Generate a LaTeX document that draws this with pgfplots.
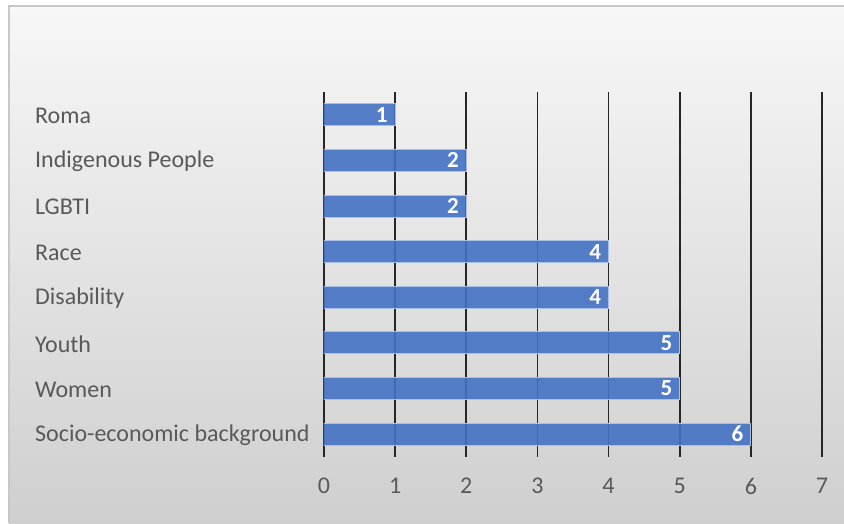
\documentclass[border=0pt]{standalone}
\usepackage{fontspec}
\setmainfont{Carlito}
\usepackage{pgfplots}
\pgfplotsset{compat=1.18}
\definecolor{barblue}{HTML}{4472C4}
\definecolor{baredge}{HTML}{A9BFE6}
\definecolor{txtgray}{HTML}{595959}
\definecolor{bgtop}{HTML}{F7F7F7}
\definecolor{bgbot}{HTML}{CFCFCF}
\definecolor{frame}{HTML}{C8C8C8}

\begin{document}
\begin{tikzpicture}
\useasboundingbox (0pt,0pt) rectangle (844pt,523pt);
% panel background and frame
\shade[top color=bgtop, bottom color=bgbot] (9pt,0pt) rectangle (844pt,517pt);
\draw[frame, line width=1.2pt] (9pt,0pt) -- (9pt,517pt) -- (844pt,517pt);
\begin{axis}[
  at={(324pt,66pt)}, anchor=south west,
  scale only axis, width=498pt, height=365pt,
  xbar, bar width=22pt,
  xmin=0, xmax=7, ymin=-0.5, ymax=7.5,
  y dir=reverse,
  xtick={0,...,7},
  ytick={0,...,7},
  yticklabels={Roma, Indigenous People, LGBTI, Race, Disability, Youth, Women, Socio-economic background},
  xmajorgrids,
  grid style={black!85, line width=1.8pt},
  axis line style={draw=none},
  major tick length=0pt,
  /pgf/number format/assume math mode=true,
  tick label style={font=\fontsize{24}{28}\selectfont, text=txtgray},
  yticklabel style={anchor=west, inner sep=0pt, xshift=-289pt, yshift=-1pt},
  xticklabel style={anchor=north, inner sep=0pt, yshift=-21pt},
  nodes near coords,
  nodes near coords style={anchor=east, inner sep=0pt, xshift=-7pt,
    font=\fontsize{23}{27}\selectfont\bfseries, text=white},
]
\addplot[fill=barblue, fill opacity=0.9, draw=baredge, line width=1pt, text opacity=1]
  coordinates {(1,0) (2,1) (2,2) (4,3) (4,4) (5,5) (5,6) (6,7)};
\end{axis}
\end{tikzpicture}
\end{document}
